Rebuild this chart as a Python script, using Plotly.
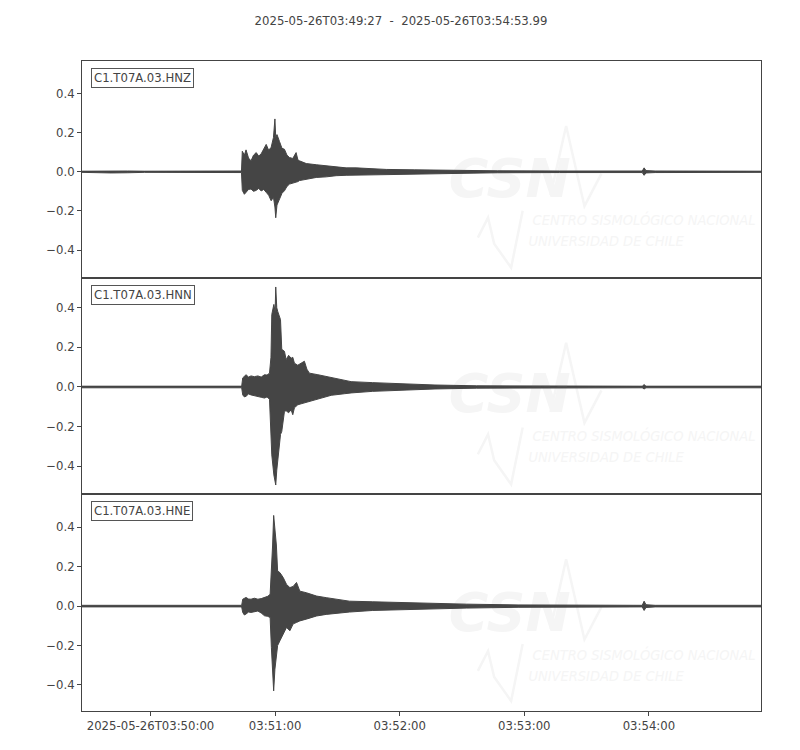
import pandas as pd
import plotly.graph_objects as go
from plotly.subplots import make_subplots

# ---------------- data ----------------
start_time = "2025-05-26 03:49:27"
end_time = "2025-05-26 03:54:53.99"
title_text = "2025-05-26T03:49:27  -  2025-05-26T03:54:53.99"
channels = ["C1.T07A.03.HNZ", "C1.T07A.03.HNN", "C1.T07A.03.HNE"]

# envelope of each trace: seconds since start, upper and lower amplitude
hnz_t = [0, 6, 8, 14, 22, 30, 76.8, 77.2, 78.2, 79.0, 80.2, 81.4, 82.6, 83.9, 85.1, 86.3, 87.5,
         88.7, 89.9, 91.1, 92.2, 92.9, 93.3, 93.9, 95.1, 96.3, 97.5, 98.7, 99.9, 101.5, 103.1,
         104.0, 104.7, 108, 112.8, 117.6, 122.4, 127.2, 132, 138.5, 146.5, 160, 180, 200, 230,
         269.8, 270.7, 271.6, 276, 327]
hnz_hi = [0.003, 0.004, 0.005, 0.005, 0.004, 0.003, 0.004, 0.105, 0.085, 0.112, 0.070, 0.056,
          0.085, 0.098, 0.080, 0.092, 0.115, 0.140, 0.110, 0.125, 0.175, 0.270, 0.175, 0.190,
          0.155, 0.120, 0.115, 0.085, 0.073, 0.068, 0.098, 0.060, 0.056, 0.042, 0.036, 0.030,
          0.026, 0.020, 0.020, 0.015, 0.012, 0.010, 0.007, 0.005, 0.004, 0.004, 0.020, 0.006,
          0.004, 0.003]
hnz_lo = [-0.003, -0.005, -0.007, -0.006, -0.005, -0.003, -0.004, -0.095, -0.115, -0.105,
          -0.090, -0.088, -0.100, -0.095, -0.085, -0.098, -0.090, -0.105, -0.120, -0.148,
          -0.130, -0.180, -0.235, -0.170, -0.140, -0.110, -0.097, -0.075, -0.063, -0.058,
          -0.054, -0.050, -0.045, -0.037, -0.029, -0.026, -0.020, -0.018, -0.017, -0.014,
          -0.012, -0.010, -0.007, -0.005, -0.004, -0.004, -0.018, -0.006, -0.004, -0.003]

hnn_t = [0, 76.9, 77.4, 78.2, 79.0, 80.2, 81.4, 83.0, 84.7, 86.3, 87.9, 89.1, 90.3, 91.0, 91.4,
         92.4, 93.0, 93.3, 93.8, 94.3, 95.0, 95.6, 96.2, 97.5, 98.3, 99.5, 100.7, 101.5, 102.3,
         103.9, 105.5, 107.1, 108.3, 109.5, 113.6, 120, 126.4, 129.6, 140, 155, 170, 190, 220,
         269.8, 270.7, 271.6, 327]
hnn_hi = [0.004, 0.004, 0.046, 0.055, 0.062, 0.050, 0.056, 0.052, 0.056, 0.050, 0.062, 0.060,
          0.070, 0.150, 0.366, 0.417, 0.380, 0.505, 0.400, 0.380, 0.360, 0.340, 0.190, 0.180,
          0.138, 0.160, 0.145, 0.150, 0.120, 0.110, 0.120, 0.130, 0.090, 0.070, 0.062, 0.048,
          0.036, 0.027, 0.022, 0.016, 0.010, 0.006, 0.004, 0.004, 0.012, 0.004, 0.004]
hnn_lo = [-0.004, -0.004, -0.040, -0.050, -0.047, -0.035, -0.040, -0.045, -0.047, -0.052,
          -0.056, -0.050, -0.062, -0.200, -0.343, -0.444, -0.470, -0.495, -0.420, -0.360,
          -0.300, -0.240, -0.225, -0.123, -0.120, -0.130, -0.115, -0.140, -0.105, -0.090,
          -0.085, -0.080, -0.076, -0.072, -0.060, -0.042, -0.034, -0.030, -0.022, -0.016,
          -0.010, -0.006, -0.004, -0.004, -0.010, -0.004, -0.004]

hne_t = [0, 76.9, 77.4, 78.2, 79.0, 80.2, 81.4, 83.0, 84.7, 86.3, 87.9, 89.5, 90.6, 91.2, 91.8,
         92.3, 92.9, 93.6, 94.2, 95.3, 96.9, 98.5, 100.1, 101.7, 103.3, 104.9, 108, 113, 117.6,
         122.4, 128.8, 140, 160, 185, 210, 240, 269.8, 270.7, 271.6, 276, 327]
hne_hi = [0.004, 0.004, 0.035, 0.040, 0.044, 0.036, 0.035, 0.040, 0.035, 0.038, 0.044, 0.050,
          0.060, 0.160, 0.310, 0.460, 0.380, 0.310, 0.178, 0.170, 0.145, 0.110, 0.094, 0.100,
          0.120, 0.076, 0.068, 0.051, 0.043, 0.034, 0.025, 0.022, 0.015, 0.010, 0.006, 0.004,
          0.004, 0.025, 0.007, 0.004, 0.004]
hne_lo = [-0.004, -0.004, -0.032, -0.045, -0.040, -0.030, -0.032, -0.028, -0.025, -0.035,
          -0.049, -0.052, -0.058, -0.210, -0.378, -0.430, -0.320, -0.243, -0.200, -0.176,
          -0.143, -0.108, -0.125, -0.090, -0.083, -0.075, -0.066, -0.050, -0.042, -0.036,
          -0.030, -0.022, -0.015, -0.010, -0.006, -0.004, -0.004, -0.022, -0.007, -0.004,
          -0.004]

y_ranges = [[-0.541, 0.566], [-0.542, 0.552], [-0.532, 0.567]]
y_tick_values = [-0.4, -0.2, 0.0, 0.2, 0.4]
x_tick_times = ["2025-05-26 03:50:00", "2025-05-26 03:51:00", "2025-05-26 03:52:00",
                "2025-05-26 03:53:00", "2025-05-26 03:54:00"]
x_tick_labels = ["2025-05-26T03:50:00", "03:51:00", "03:52:00", "03:53:00", "03:54:00"]
watermark_lines = ["CSN", "CENTRO SISMOLÓGICO NACIONAL", "UNIVERSIDAD DE CHILE"]

# ---------------- figure ----------------
INK = "#454545"
WM = "#f5f5f5"
FONT = "DejaVu Sans"
FS = 11.7
t0 = pd.Timestamp(start_time)


def to_time(sec_list):
    return [t0 + pd.Timedelta(seconds=s) for s in sec_list]


fig = make_subplots(rows=3, cols=1, shared_xaxes=True, vertical_spacing=0)

traces = [(hnz_t, hnz_hi, hnz_lo), (hnn_t, hnn_hi, hnn_lo), (hne_t, hne_hi, hne_lo)]
for i, (tt, hi, lo) in enumerate(traces):
    r = i + 1
    # faint logo text (drawn first, so the waveform lies on top)
    fig.add_trace(go.Scatter(x=[t0 + pd.Timedelta(seconds=206)], y=[-0.06], mode="text",
                             text=[watermark_lines[0]],
                             textfont=dict(family=FONT, size=54, color=WM,
                                           weight="bold", style="italic"),
                             hoverinfo="skip", showlegend=False), row=r, col=1)
    fig.add_trace(go.Scatter(x=[t0 + pd.Timedelta(seconds=217)], y=[-0.255], mode="text",
                             text=[watermark_lines[1]], textposition="middle right",
                             textfont=dict(family="DejaVu Sans Condensed", size=14.5,
                                           color=WM, style="italic", weight="normal"),
                             hoverinfo="skip", showlegend=False), row=r, col=1)
    fig.add_trace(go.Scatter(x=[t0 + pd.Timedelta(seconds=215)], y=[-0.36], mode="text",
                             text=[watermark_lines[2]], textposition="middle right",
                             textfont=dict(family="DejaVu Sans Condensed", size=14.5,
                                           color=WM, style="italic", weight="normal"),
                             hoverinfo="skip", showlegend=False), row=r, col=1)
    x = to_time(tt)
    fig.add_trace(go.Scatter(x=x, y=hi, mode="lines", line=dict(color=INK, width=1),
                             hoverinfo="skip", showlegend=False), row=r, col=1)
    fig.add_trace(go.Scatter(x=x, y=lo, mode="lines", line=dict(color=INK, width=1),
                             fill="tonexty", fillcolor=INK,
                             hoverinfo="skip", showlegend=False), row=r, col=1)

tickfont = dict(family=FONT, size=FS, color="#444444")
panel_h = 1.0 / 3
for i in range(3):
    r = i + 1
    suffix = "" if r == 1 else str(r)
    d0 = 1 - (i + 1) * panel_h
    d1 = 1 - i * panel_h
    fig.update_yaxes(row=r, col=1, domain=[d0, d1], range=y_ranges[i],
                     tickvals=y_tick_values, tickformat=".1f", ticks="outside",
                     ticklen=4, tickcolor="#444444", tickfont=tickfont,
                     showline=True, mirror=True, linecolor="#444444", linewidth=1,
                     showgrid=False, zeroline=True, zerolinecolor=INK, zerolinewidth=1)
    fig.update_xaxes(row=r, col=1, type="date", range=[start_time, end_time],
                     tickvals=x_tick_times, ticktext=x_tick_labels,
                     ticks="outside" if r == 3 else "", ticklen=4, tickcolor="#444444",
                     showticklabels=(r == 3), tickfont=tickfont,
                     showline=True, mirror=True, linecolor="#444444", linewidth=1,
                     showgrid=False, zeroline=False)
    fig.add_annotation(text=channels[i], xref=f"x{suffix} domain", yref=f"y{suffix} domain",
                       x=0.0135, y=0.968, xanchor="left", yanchor="top", showarrow=False,
                       font=dict(family=FONT, size=FS, color="#444444"),
                       bordercolor="#555555", borderwidth=1, borderpad=2, bgcolor="white")
    # faint zig-zag strokes of the logo (below the data)
    wm_line = dict(color=WM, width=2.5)
    fig.add_shape(type="path", xref=f"x{suffix} domain", yref=f"y{suffix} domain",
                  path="M 0.690,0.38 L 0.713,0.70 L 0.740,0.33 L 0.765,0.48",
                  line=wm_line, layer="below")
    fig.add_shape(type="path", xref=f"x{suffix} domain", yref=f"y{suffix} domain",
                  path="M 0.583,0.185 L 0.598,0.277 L 0.607,0.157 L 0.632,0.046 L 0.649,0.309",
                  line=wm_line, layer="below")

fig.update_layout(
    width=800, height=750,
    margin=dict(l=74, r=47, t=53, b=47),
    paper_bgcolor="white", plot_bgcolor="white",
    title=dict(text=title_text, x=393 / 800, xanchor="center",
               y=1 - 13 / 750, yanchor="middle",
               font=dict(family=FONT, size=FS, color="#444444")),
)

fig.write_html("out.html")
